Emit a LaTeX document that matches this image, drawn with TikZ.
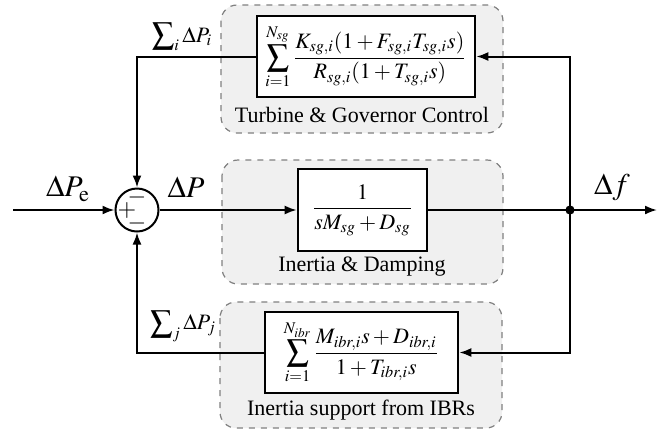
\documentclass[tikz,border=0pt]{standalone}
\usepackage{mathptmx}
\usepackage[no-math]{fontspec}
\setmainfont{Liberation Serif}
\usetikzlibrary{arrows.meta}
\tikzset{
  grp/.style={draw=gray,dashed,fill=gray!12,rounded corners=8pt,line width=.6pt},
  blk/.style={draw,line width=1.3pt,fill=white,inner sep=0pt},
  sig/.style={line width=1pt},
  arr/.style={sig,-{Latex[length=6pt,width=4.5pt]}},
  lbl/.style={font=\fontsize{15}{17}\selectfont},
  sgn/.style={inner sep=0pt,font=\fontsize{12}{12}\selectfont}
}
\begin{document}
\begin{tikzpicture}[x=.5pt,y=-.5pt,font=\fontsize{11}{13}\selectfont]
\useasboundingbox (0,0) rectangle (665,430);
% shaded groups
\draw[grp](221,5) rectangle (503,133);
\draw[grp](222,160) rectangle (503,284);
\draw[grp](220,302) rectangle (502,428);
\node (govtxt) at (362,115) {Turbine \& Governor Control};
\node (damptxt) at (362,267) {Inertia \& Damping};
\node (ibrtxt) at (361,410) {Inertia support from IBRs};
% transfer blocks
\node[blk,minimum width=109pt,minimum height=40.5pt] (gov) at (366,56.5)
  {$\displaystyle\sum_{i=1}^{N_{sg}}\frac{K_{sg,i}(1+F_{sg,i}T_{sg,i}s)}{R_{sg,i}(1+T_{sg,i}s)}$};
\node[blk,minimum width=64.5pt,minimum height=41pt] (damp) at (362.5,210)
  {$\displaystyle\frac{1}{sM_{sg}+D_{sg}}$};
\node[blk,minimum width=96.5pt,minimum height=40.5pt] (ibr) at (361.5,352.5)
  {$\displaystyle\sum_{i=1}^{N_{ibr}}\frac{M_{ibr,i}s+D_{ibr,i}}{1+T_{ibr,i}s}$};
% summing point
\node[draw,circle,line width=1pt,minimum size=21.5pt,inner sep=0pt] (sum) at (137,210) {};
\node[sgn] (plus) at ([xshift=-5pt]sum.center) {$+$};
\node[sgn] (mtop) at ([yshift=6.5pt]sum.center) {$-$};
\node[sgn] (mbot) at ([yshift=-6.5pt]sum.center) {$-$};
\coordinate (in) at (13,210);
\coordinate (tap) at (570,210);
\coordinate (out) at (657,210);
% signal paths
\draw[arr](in)--(sum.west);
\draw[arr](sum.east)--(damp.west);
\draw[sig](damp.east)--(tap);
\draw[arr](tap)--(out);
\fill(tap)circle(2.3pt);
\draw[arr](tap)|-(gov.east);
\draw[arr](tap)|-(ibr.east);
\draw[arr](gov.west)-|(sum.north);
\draw[arr](ibr.west)-|(sum.south);
% signal names
\node[lbl] (pe) at (68,189) {$\Delta P_{\mathrm{e}}$};
\node[lbl] (dp) at (186,187) {$\Delta P$};
\node[lbl] (df) at (612,187) {$\Delta f$};
\node (pi) at (182,37) {$\displaystyle\sum\nolimits_i \Delta P_i$};
\node (pj) at (183,326) {$\displaystyle\sum\nolimits_j \Delta P_j$};
\end{tikzpicture}
\end{document}
